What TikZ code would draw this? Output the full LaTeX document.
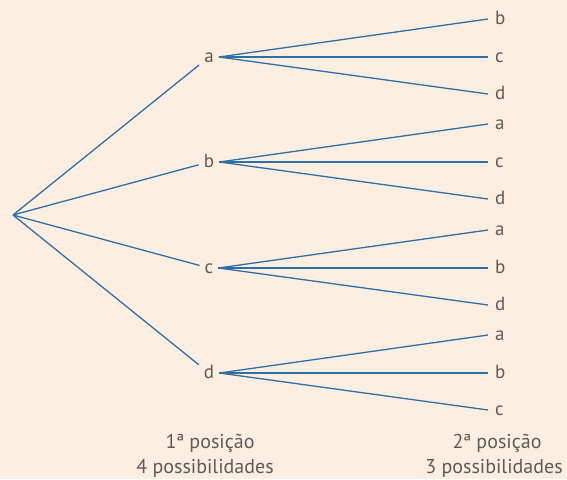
\documentclass[tikz,border=0pt]{standalone}
\usepackage{fontspec}
\setmainfont{PT Sans}
\definecolor{bg}{HTML}{FDEEE2}
\definecolor{ln}{HTML}{2F6FA6}
\definecolor{tx}{HTML}{5E5A58}
\begin{document}
\begin{tikzpicture}[x=1pt,y=-1pt,
  lab/.style={text=tx,font=\fontsize{19}{22}\selectfont,inner xsep=5pt,inner ysep=3pt,text height=10pt,text depth=0pt},
  leaf/.style={text=tx,font=\fontsize{19}{22}\selectfont,inner sep=0pt,anchor=west,text height=10pt,text depth=0pt},
  br/.style={draw=ln,line width=1.3pt},
  captxt/.style={text=tx,font=\fontsize{20}{24}\selectfont,inner sep=0pt}]
\fill[bg] (0,0) rectangle (567,479);
\useasboundingbox (0,0) rectangle (567,479);
\coordinate (r) at (13,215);
\node[lab] (a) at (209,57) {a};
\node[lab] (b) at (209,162) {b};
\node[lab] (c) at (209,268) {c};
\node[lab] (d) at (209,373) {d};
\foreach \n in {a,b,c,d} \draw[br] (r) -- (\n);
% leaves
\node[leaf] (ab) at (495,19) {b};
\node[leaf] (ac) at (495,57) {c};
\node[leaf] (ad) at (495,94) {d};
\node[leaf] (ba) at (495,124) {a};
\node[leaf] (bc) at (495,162) {c};
\node[leaf] (bd) at (495,199) {d};
\node[leaf] (ca) at (495,230) {a};
\node[leaf] (cb) at (495,268) {b};
\node[leaf] (cd) at (495,305) {d};
\node[leaf] (da) at (495,335) {a};
\node[leaf] (db) at (495,373) {b};
\node[leaf] (dc) at (495,410) {c};
\foreach \p/\q in {a/ab,a/ac,a/ad,b/ba,b/bc,b/bd,c/ca,c/cb,c/cd,d/da,d/db,d/dc}
  \draw[br] (\p.east) -- ([xshift=-7pt]\q.west);
\node[captxt,anchor=base] (c1) at (210,448) {1ª posição};
\node[captxt,anchor=base] (c2) at (205,473) {4 possibilidades};
\node[captxt,anchor=base] (c3) at (497,448) {2ª posição};
\node[captxt,anchor=base] (c4) at (494,473) {3 possibilidades};
\end{tikzpicture}
\end{document}
